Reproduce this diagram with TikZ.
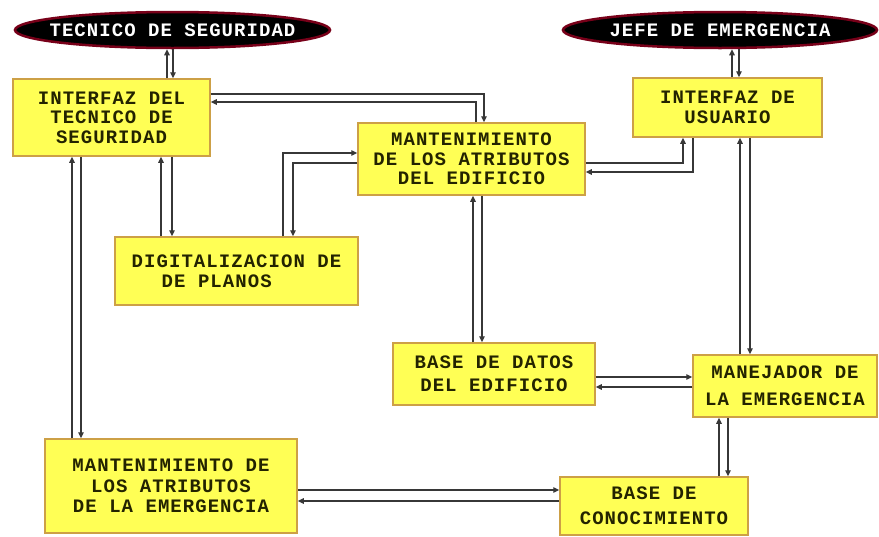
\documentclass[tikz,border=0pt]{standalone}
\usepackage{fontspec}
\newfontfamily\boxfont{Liberation Mono}[LetterSpace=5.5]
\usetikzlibrary{shapes.geometric,arrows.meta}
\definecolor{boxyellow}{RGB}{255,255,85}
\definecolor{boxedge}{RGB}{205,160,70}
\definecolor{txt}{RGB}{35,35,0}
\definecolor{halo}{RGB}{120,0,25}
\definecolor{linec}{RGB}{55,55,55}
\begin{document}
\begin{tikzpicture}[x=1pt,y=-1pt,
  proc/.style={draw=boxedge,line width=1.5pt,fill=boxyellow,text=txt,
    font=\boxfont\bfseries\fontsize{19}{19.5}\selectfont,align=center,inner sep=0pt},
  term/.style={ellipse,draw=halo,line width=2.5pt,fill=black,inner sep=0pt},
  termtext/.style={text=white,font=\boxfont\bfseries\fontsize{19}{19.5}\selectfont},
  arr/.style={draw=linec,line width=1.3pt,-{Triangle[length=6pt,width=5.5pt]}}]
\useasboundingbox[fill=white] (0,0) rectangle (879,536);

% actors
\node[term,minimum width=315pt,minimum height=36pt,
  label={[termtext]center:TECNICO DE SEGURIDAD}] (ts) at (172.5,30) {};
\node[term,minimum width=314pt,minimum height=36pt,
  label={[termtext]center:JEFE DE EMERGENCIA}] (je) at (720,30) {};

% processes
\node[proc,minimum width=197pt,minimum height=77pt] (it) at (111.5,117.5)
  {INTERFAZ DEL\\TECNICO DE\\SEGURIDAD};
\node[proc,minimum width=227pt,minimum height=72pt] (me) at (471.5,159)
  {MANTENIMIENTO\\DE LOS ATRIBUTOS\\DEL EDIFICIO};
\node[proc,minimum width=189pt,minimum height=59pt] (iu) at (727.5,107.5)
  {INTERFAZ DE\\USUARIO};
\node[proc,minimum width=243pt,minimum height=68pt,align=left] (dg) at (236.5,271)
  {DIGITALIZACION DE\\\hspace*{30pt}DE PLANOS};
\node[proc,minimum width=202pt,minimum height=62pt] (bd) at (494,374)
  {BASE DE DATOS\\[3.5pt]DEL EDIFICIO};
\node[proc,minimum width=184pt,minimum height=62pt] (mj) at (785,386)
  {MANEJADOR DE\\[7.5pt]LA EMERGENCIA};
\node[proc,minimum width=252pt,minimum height=94pt] (mm) at (171,486)
  {MANTENIMIENTO DE\\[1pt]LOS ATRIBUTOS\\[1pt]DE LA EMERGENCIA};
\node[proc,minimum width=188pt,minimum height=58pt] (bc) at (654,506)
  {BASE DE\\[5.5pt]CONOCIMIENTO};

% connectors
\draw[arr] (it.north -| 167,0) -- (ts.south -| 167,0);
\draw[arr] (ts.south -| 173,0) -- (it.north -| 173,0);

\draw[arr] (iu.north -| 732,0) -- (je.south -| 732,0);
\draw[arr] (je.south -| 739,0) -- (iu.north -| 739,0);

\draw[arr] (it.east |- 0,94) -| (me.north -| 484,0);
\draw[arr] (me.north -| 476,0) |- (it.east |- 0,102);

\draw[arr] (dg.north -| 283,0) |- (me.west |- 0,153);
\draw[arr] (me.west |- 0,163) -| (dg.north -| 293,0);

\draw[arr] (dg.north -| 161,0) -- (it.south -| 161,0);
\draw[arr] (it.south -| 172,0) -- (dg.north -| 172,0);

\draw[arr] (mm.north -| 72,0) -- (it.south -| 72,0);
\draw[arr] (it.south -| 81,0) -- (mm.north -| 81,0);

\draw[arr] (me.east |- 0,163) -| (iu.south -| 683,0);
\draw[arr] (iu.south -| 693,0) |- (me.east |- 0,172);

\draw[arr] (bd.north -| 473,0) -- (me.south -| 473,0);
\draw[arr] (me.south -| 482,0) -- (bd.north -| 482,0);

\draw[arr] (mj.north -| 740,0) -- (iu.south -| 740,0);
\draw[arr] (iu.south -| 750,0) -- (mj.north -| 750,0);

\draw[arr] (bd.east |- 0,377) -- (mj.west |- 0,377);
\draw[arr] (mj.west |- 0,387) -- (bd.east |- 0,387);

\draw[arr] (bc.north -| 719,0) -- (mj.south -| 719,0);
\draw[arr] (mj.south -| 728,0) -- (bc.north -| 728,0);

\draw[arr] (mm.east |- 0,490) -- (bc.west |- 0,490);
\draw[arr] (bc.west |- 0,501) -- (mm.east |- 0,501);
\end{tikzpicture}
\end{document}
